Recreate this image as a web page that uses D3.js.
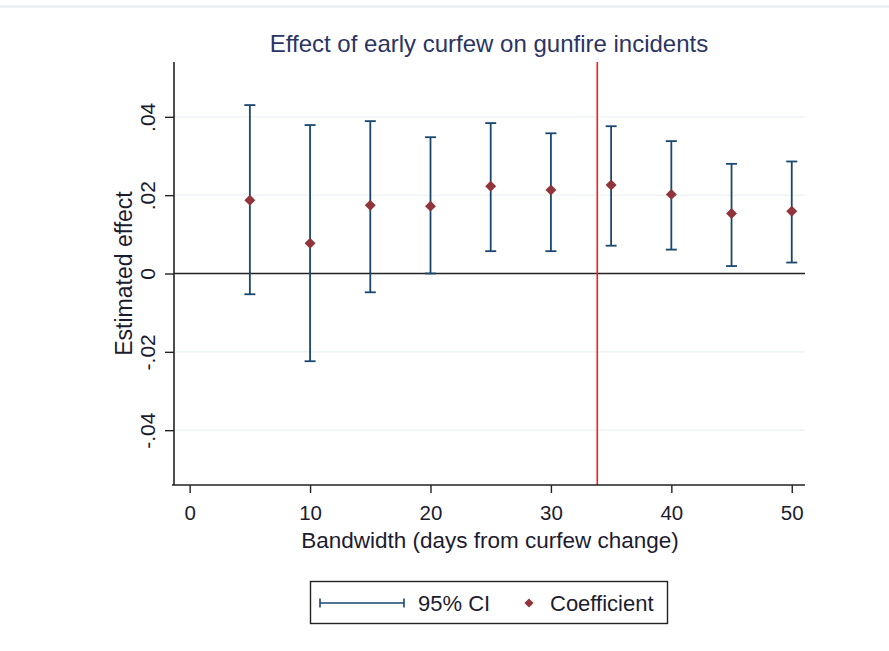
<!DOCTYPE html>
<html><head><meta charset="utf-8">
<script src="https://cdn.jsdelivr.net/npm/d3@7"></script>
<style>body{margin:0;background:#fff;} text{font-family:"Liberation Sans",Arial,sans-serif;}</style>
</head><body>
<svg id="c" width="889" height="651"></svg>
<script>
const bandwidth = [5,10,15,20,25,30,35,40,45,50];
const coefficient = [0.0187,0.0077,0.0174,0.0172,0.0223,0.0213,0.0226,0.0202,0.0153,0.0159];
const ciLower = [-0.0053,-0.0224,-0.0048,0.0000,0.0057,0.0057,0.0071,0.0061,0.0019,0.0028];
const ciUpper = [0.0430,0.0379,0.0389,0.0348,0.0384,0.0358,0.0376,0.0338,0.0280,0.0286];
const xTicks = [0,10,20,30,40,50];
const yTicks = [-0.04,-0.02,0,0.02,0.04];
const yTickLabels = ["-.04","-.02","0",".02",".04"];
const cutoff = 33.85;
const title = "Effect of early curfew on gunfire incidents";
const xTitle = "Bandwidth (days from curfew change)";
const yTitle = "Estimated effect";
const legendLabels = ["95% CI","Coefficient"];

const svg = d3.select("#c");
const navy = "#1a476f", maroon = "#90353b", txt = "#1c1c30";
const L = 174, R = 805, T = 62, B = 485;
const x = d3.scaleLinear().domain([-1.3, 51.1]).range([L, R]);
const y = d3.scaleLinear().domain([-0.054, 0.054]).range([B, T]);

// top faint border
svg.append("line").attr("x1",0).attr("x2",889).attr("y1",6.5).attr("y2",6.5).attr("stroke","#e6ebee").attr("stroke-width",2);

// gridlines
svg.append("g").selectAll("line").data(yTicks.filter(d=>d!==0)).join("line")
  .attr("x1",L).attr("x2",R).attr("y1",d=>y(d)).attr("y2",d=>y(d))
  .attr("stroke","#eaf2f3").attr("stroke-width",1.2);

// zero line
svg.append("line").attr("x1",L).attr("x2",R).attr("y1",y(0)).attr("y2",y(0)).attr("stroke","#222").attr("stroke-width",1.4);

// cutoff line
svg.append("line").attr("x1",x(cutoff)).attr("x2",x(cutoff)).attr("y1",T).attr("y2",B).attr("stroke","#ff1a1a").attr("stroke-width",1.6);

// axes
const yAxis = d3.axisLeft(y).tickValues(yTicks).tickFormat((d,i)=>yTickLabels[i]).tickSize(9).tickPadding(6);
const gy = svg.append("g").attr("transform",`translate(${L},0)`).call(yAxis);
gy.select(".domain").attr("d",`M0,${T}V${B}`).attr("stroke","#222").attr("stroke-width",1.6);
gy.selectAll(".tick line").attr("stroke","#222").attr("stroke-width",1.4);
gy.selectAll(".tick text").attr("transform","rotate(-90)").attr("x",0).attr("y",-19).attr("dy",0)
  .attr("text-anchor","middle").attr("font-size",21).attr("fill",txt);

const xAxis = d3.axisBottom(x).tickValues(xTicks).tickSize(8).tickPadding(9);
const gx = svg.append("g").attr("transform",`translate(0,${B})`).call(xAxis);
gx.select(".domain").attr("d",`M${L-2},0H${R}`).attr("stroke","#222").attr("stroke-width",1.6);
gx.selectAll(".tick line").attr("stroke","#222").attr("stroke-width",1.4);
gx.selectAll(".tick text").attr("y",35).attr("dy",0).attr("font-size",20.5).attr("fill",txt);

// CI bars
const data = bandwidth.map((b,i)=>({b,c:coefficient[i],lo:ciLower[i],hi:ciUpper[i]}));
const g = svg.append("g");
g.selectAll(".v").data(data).join("line").attr("x1",d=>x(d.b)).attr("x2",d=>x(d.b))
  .attr("y1",d=>y(d.lo)).attr("y2",d=>y(d.hi)).attr("stroke",navy).attr("stroke-width",1.8);
g.selectAll(".capH").data(data).join("line").attr("x1",d=>x(d.b)-5.5).attr("x2",d=>x(d.b)+5.5)
  .attr("y1",d=>y(d.hi)).attr("y2",d=>y(d.hi)).attr("stroke",navy).attr("stroke-width",1.8);
g.selectAll(".capL").data(data).join("line").attr("x1",d=>x(d.b)-5.5).attr("x2",d=>x(d.b)+5.5)
  .attr("y1",d=>y(d.lo)).attr("y2",d=>y(d.lo)).attr("stroke",navy).attr("stroke-width",1.8);
g.selectAll("path.pt").data(data).join("path").attr("class","pt")
  .attr("transform",d=>`translate(${x(d.b)},${y(d.c)}) rotate(45)`).attr("d",d3.symbol().type(d3.symbolSquare).size(60)).attr("fill",maroon);

// titles
svg.append("text").attr("x",489).attr("y",52).attr("text-anchor","middle").attr("font-size",24).attr("fill","#2b3463").text(title);
svg.append("text").attr("x",490).attr("y",548).attr("text-anchor","middle").attr("font-size",22.5).attr("fill",txt).text(xTitle);
svg.append("text").attr("transform",`translate(132,${y(0)}) rotate(-90)`).attr("text-anchor","middle").attr("font-size",23).attr("fill",txt).text(yTitle);

// legend
const lg = svg.append("g");
lg.append("rect").attr("x",310.5).attr("y",581.5).attr("width",357).attr("height",42).attr("fill","#fff").attr("stroke","#222").attr("stroke-width",1.4);
lg.append("line").attr("x1",320).attr("x2",404).attr("y1",603).attr("y2",603).attr("stroke",navy).attr("stroke-width",1.6);
lg.append("line").attr("x1",320).attr("x2",320).attr("y1",598.5).attr("y2",607.5).attr("stroke",navy).attr("stroke-width",1.6);
lg.append("line").attr("x1",404).attr("x2",404).attr("y1",598.5).attr("y2",607.5).attr("stroke",navy).attr("stroke-width",1.6);
lg.append("text").attr("x",418).attr("y",611).attr("font-size",22).attr("fill",txt).text(legendLabels[0]);
lg.append("path").attr("transform","translate(529,603) rotate(45)").attr("d",d3.symbol().type(d3.symbolSquare).size(42)).attr("fill",maroon);
lg.append("text").attr("x",550).attr("y",611).attr("font-size",22).attr("fill",txt).text(legendLabels[1]);
</script>
</body></html>
